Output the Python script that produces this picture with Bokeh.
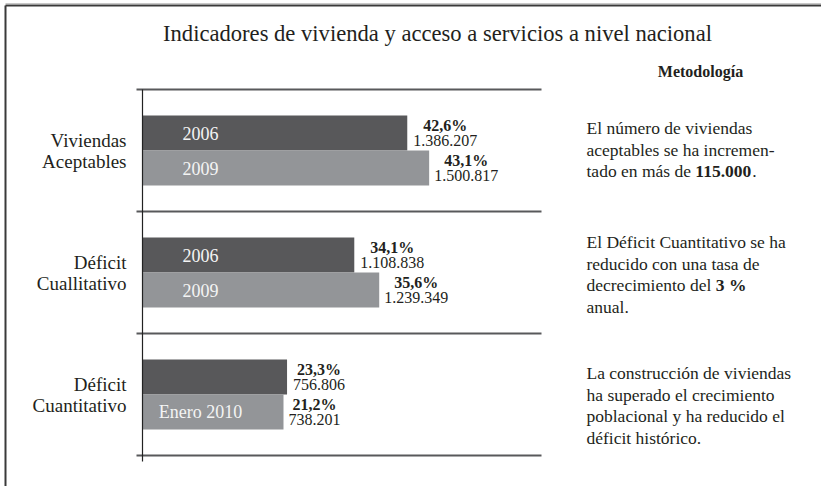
from bokeh.plotting import figure
from bokeh.models import Range1d, Label, ColumnDataSource
from bokeh.core.properties import value
from bokeh.embed import file_html
from bokeh.resources import INLINE

# ---------------- data ----------------
title_text = "Indicadores de vivienda y acceso a servicios a nivel nacional"
side_heading = "Metodología"
cat_line1 = ["Viviendas", "Déficit", "Déficit"]
cat_line2 = ["Aceptables", "Cuallitativo", "Cuantitativo"]
first_values = [1386207, 1108838, 756806]
second_values = [1500817, 1239349, 738201]
first_pct = ["42,6%", "34,1%", "23,3%"]
second_pct = ["43,1%", "35,6%", "21,2%"]
first_bar_labels = ["2006", "2006", ""]
second_bar_labels = ["2009", "2009", "Enero 2010"]
note_1 = [[("El número de viviendas", False)],
          [("aceptables se ha incremen-", False)],
          [("tado en más de ", False), ("115.000", True), (".", False)]]
note_2 = [[("El Déficit Cuantitativo se ha", False)],
          [("reducido con una tasa de", False)],
          [("decrecimiento del ", False), ("3 %", True)],
          [("anual.", False)]]
note_3 = [[("La construcción de viviendas", False)],
          [("ha superado el crecimiento", False)],
          [("poblacional y ha reducido el", False)],
          [("déficit histórico.", False)]]
notes = [note_1, note_2, note_3]

# ---------------- layout constants ----------------
W, H = 821, 486
FONT = "Liberation Serif"
INK = "#231f20"
DARK = "#58585a"
LIGHT = "#939598"
LINE = "#58595b"

PX_PER_MILLION = 191.0
ZERO_FX = 142.0          # canvas x of value 0
GROUP_PX = 122.0
FIRST_GROUP_FY = 150.0   # canvas y (from top) of first group centre

x_start = -ZERO_FX / PX_PER_MILLION * 1e6
x_end = (W - ZERO_FX) / PX_PER_MILLION * 1e6
y_top = -FIRST_GROUP_FY / GROUP_PX
y_bottom = (H - FIRST_GROUP_FY) / GROUP_PX


def fx(px):
    return (px - ZERO_FX) / PX_PER_MILLION * 1e6


def fy(py):
    return (py - FIRST_GROUP_FY) / GROUP_PX


p = figure(width=W, height=H, output_backend="svg", toolbar_location=None,
           x_range=Range1d(x_start, x_end), y_range=Range1d(y_bottom, y_top),
           x_axis_location=None, y_axis_location=None, min_border=0,
           background_fill_color="white", border_fill_color="white")
p.grid.visible = False
p.outline_line_color = None

# Times-compatible advance widths (per 1000 em)
REG = {' ': 250, 'a': 444, 'b': 500, 'c': 444, 'd': 500, 'e': 444, 'f': 333, 'g': 500,
       'h': 500, 'i': 278, 'l': 278, 'm': 778, 'n': 500, 'o': 500, 'p': 500, 'r': 333,
       's': 389, 't': 278, 'u': 500, 'v': 500, 'y': 500, 'á': 444, 'é': 444, 'í': 278,
       'ó': 500, 'ú': 500, '.': 250, ',': 250, '-': 333, '%': 833}
BOLD = {' ': 250, '.': 250, ',': 250, '%': 1000}
for d in "0123456789":
    REG[d] = 500
    BOLD[d] = 500


def text_width(s, size, bold=False):
    table = BOLD if bold else REG
    return sum(table.get(ch, 500) for ch in s) * size / 1000.0


def screen_label(text, px, py, size, bold=False, align="left", color=INK):
    p.add_layout(Label(x=px, y=H - py, x_units="screen", y_units="screen",
                       text=text, text_font=FONT, text_font_size=f"{size}px",
                       text_font_style="bold" if bold else "normal",
                       text_color=color, text_align=align, text_baseline="middle"))


# frame border (left and top)
p.segment(x0=[fx(5), fx(5)], y0=[fy(5), fy(5)], x1=[x_end, fx(5)], y1=[fy(5), y_bottom],
          line_color="#3a3a3a", line_width=2)
p.segment(x0=[fx(5)], y0=[fy(3)], x1=[x_end], y1=[fy(3)], line_color="#c8c8c8", line_width=1)

# ---------------- bars ----------------
n = len(first_values)
gy = list(range(n))
bar_h = 35.0 / GROUP_PX
src = ColumnDataSource(dict(
    y1=[g - bar_h / 2 for g in gy], y2=[g + bar_h / 2 for g in gy],
    v1=first_values, v2=second_values,
    c1=[f"{v:,}".replace(",", ".") for v in first_values],
    c2=[f"{v:,}".replace(",", ".") for v in second_values],
    p1=first_pct, p2=second_pct,
    b1=first_bar_labels, b2=second_bar_labels,
    o1=[6 + text_width(f"{v:,}".replace(",", "."), 16) / 2 for v in first_values],
    o2=[5 + text_width(f"{v:,}".replace(",", "."), 16) / 2 for v in second_values],
    l1=cat_line1, l2=cat_line2, g=gy,
))

p.hbar(y="y1", left=0, right="v1", height=bar_h, source=src, fill_color=DARK, line_color=None)
p.hbar(y="y2", left=0, right="v2", height=bar_h, source=src, fill_color=LIGHT, line_color=None)

# separators and axis line
sep_y = [g - 0.5 for g in gy] + [gy[-1] + 0.5]
p.segment(x0=[fx(136)] * len(sep_y), x1=[fx(541)] * len(sep_y), y0=sep_y, y1=sep_y,
          line_color=LINE, line_width=2)
p.segment(x0=[0], x1=[0], y0=[sep_y[0]], y1=[sep_y[-1] + 6 / GROUP_PX],
          line_color="#222222", line_width=1.2)

common = dict(text_font=value(FONT), source=src)
# inner bar labels
p.text(x=0, y="y1", text="b1", x_offset=58, text_align="center", text_baseline="middle",
       text_font_size="18px", text_color="#f4f4f4", **common)
p.text(x=0, y="y2", text="b2", x_offset=58, text_align="center", text_baseline="middle",
       text_font_size="18px", text_color="#f4f4f4", **common)
# value labels
for vcol, ycol, pcol, ccol, ocol in (("v1", "y1", "p1", "c1", "o1"), ("v2", "y2", "p2", "c2", "o2")):
    p.text(x=vcol, y=ycol, text=pcol, x_offset=ocol, y_offset=-7.5, text_align="center",
           text_baseline="middle", text_font_size="16px", text_font_style="bold",
           text_color=INK, **common)
    p.text(x=vcol, y=ycol, text=ccol, x_offset=ocol, y_offset=7.5, text_align="center",
           text_baseline="middle", text_font_size="16px", text_color=INK, **common)
# category labels
p.text(x=0, y="g", text="l1", x_offset=-16, y_offset=-10.5, text_align="right",
       text_baseline="middle", text_font_size="19px", text_color=INK, **common)
p.text(x=0, y="g", text="l2", x_offset=-16, y_offset=10.5, text_align="right",
       text_baseline="middle", text_font_size="19px", text_color=INK, **common)

# ---------------- titles ----------------
screen_label(title_text, 437, 33, 22.6, align="center")
screen_label(side_heading, 700, 71, 16, bold=True, align="center")

# ---------------- notes ----------------
NOTE_SIZE = 17.5
note_centres = [149, 274, 405]
for note, cy in zip(notes, note_centres):
    k = len(note)
    for i, line in enumerate(note):
        py = cy + (i - (k - 1) / 2) * 21.5
        px = 586
        for seg, bold in line:
            screen_label(seg, px, py, NOTE_SIZE, bold=bold)
            px += text_width(seg, NOTE_SIZE, bold)

open("out.html", "w").write(file_html(p, INLINE))
